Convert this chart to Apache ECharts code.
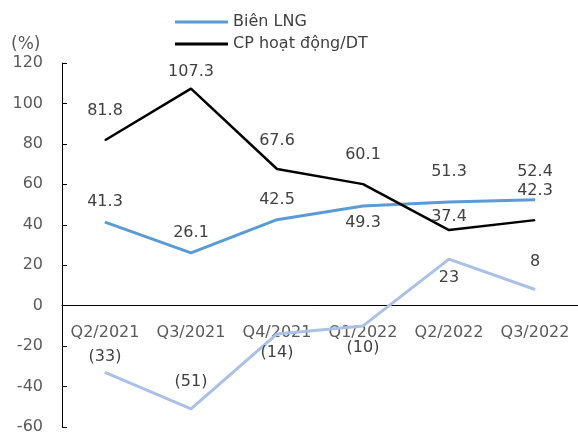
<!DOCTYPE html>
<html>
<head>
<meta charset="utf-8">
<script src="https://cdn.jsdelivr.net/npm/echarts@6/dist/echarts.min.js"></script>
<style>
  html, body { margin: 0; padding: 0; background: #fff; }
  #chart { width: 578px; height: 434px; }
</style>
</head>
<body>
<div id="chart"></div>
<script>
// categories and values
var quarters = ["Q2/2021", "Q3/2021", "Q4/2021", "Q1/2022", "Q2/2022", "Q3/2022"];
var bienLNG = [41.3, 26.1, 42.5, 49.3, 51.3, 52.4];
var cpHoatDong = [81.8, 107.3, 67.6, 60.1, 37.4, 42.3];
var thirdSeries = [-33, -51, -14, -10, 23, 8];
var yTicks = [-60, -40, -20, 0, 20, 40, 60, 80, 100, 120];

// vertical shift of each value label (px, from the point)
var bienOffsets = [-20, -20, -20, 17, -30, -28];
var cpOffsets = [-29, -17, -28, -29, -13, -29];
var thirdOffsets = [-16, -27, 19, 22, 19, -28];

var FONT = "DejaVu Sans";
var GRID_TOP = 63, GRID_BOTTOM = 7, H = 434;

function withLabels(values, offsets, fmt) {
  return values.map(function (v, i) {
    return {
      value: v,
      label: { offset: [0, offsets[i]], formatter: fmt ? fmt(v) : String(v) }
    };
  });
}

function lineSeries(name, color, width, data) {
  return {
    name: name,
    type: "line",
    data: data,
    symbol: "circle",
    symbolSize: 1,
    itemStyle: { color: color },
    lineStyle: { color: color, width: width },
    label: {
      show: true,
      position: "inside",
      color: "#404040",
      fontFamily: FONT,
      fontSize: 16
    },
    emphasis: { disabled: true },
    animation: false
  };
}

// x axis sits at value 0: shift it up from the grid bottom
var plotH = H - GRID_TOP - GRID_BOTTOM;
var yMin = yTicks[0], yMax = yTicks[yTicks.length - 1];
var zeroShift = plotH * (0 - yMin) / (yMax - yMin);

var chart = echarts.init(document.getElementById("chart"));
chart.setOption({
  backgroundColor: "#fff",
  grid: { left: 62, right: 0, top: GRID_TOP, bottom: GRID_BOTTOM, outerBoundsMode: "none", containLabel: false },
  legend: {
    data: ["Biên LNG", "CP hoạt động/DT"],
    orient: "vertical",
    left: 170,
    top: 7,
    itemWidth: 53,
    itemHeight: 3,
    itemGap: 2,
    icon: "rect",
    textStyle: { color: "#404040", fontFamily: FONT, fontSize: 16, lineHeight: 20 }
  },
  graphic: [{
    type: "text",
    left: 11,
    top: 36,
    style: { text: "(%)", fill: "#595959", font: "17px " + FONT }
  }],
  xAxis: {
    type: "category",
    data: quarters,
    boundaryGap: true,
    offset: -zeroShift,
    axisLine: { onZero: false, lineStyle: { color: "#000", width: 1 } },
    axisTick: { inside: true, length: 6, lineStyle: { color: "#000" } },
    axisLabel: { interval: 0, color: "#595959", fontFamily: FONT, fontSize: 16, margin: 19 }
  },
  yAxis: {
    type: "value",
    min: yMin,
    max: yMax,
    interval: 20,
    splitLine: { show: false },
    axisLine: { show: true, lineStyle: { color: "#000", width: 1 } },
    axisTick: { show: true, inside: true, length: 5, lineStyle: { color: "#000" } },
    axisLabel: { color: "#595959", fontFamily: FONT, fontSize: 16, margin: 19 }
  },
  series: [
    lineSeries("Khác", "#aac0e6", 3, withLabels(thirdSeries, thirdOffsets, function (v) {
      return v < 0 ? "(" + Math.abs(v) + ")" : String(v);
    })),
    lineSeries("Biên LNG", "#5b9bd5", 3, withLabels(bienLNG, bienOffsets)),
    lineSeries("CP hoạt động/DT", "#000000", 2.5, withLabels(cpHoatDong, cpOffsets))
  ]
});
</script>
</body>
</html>
